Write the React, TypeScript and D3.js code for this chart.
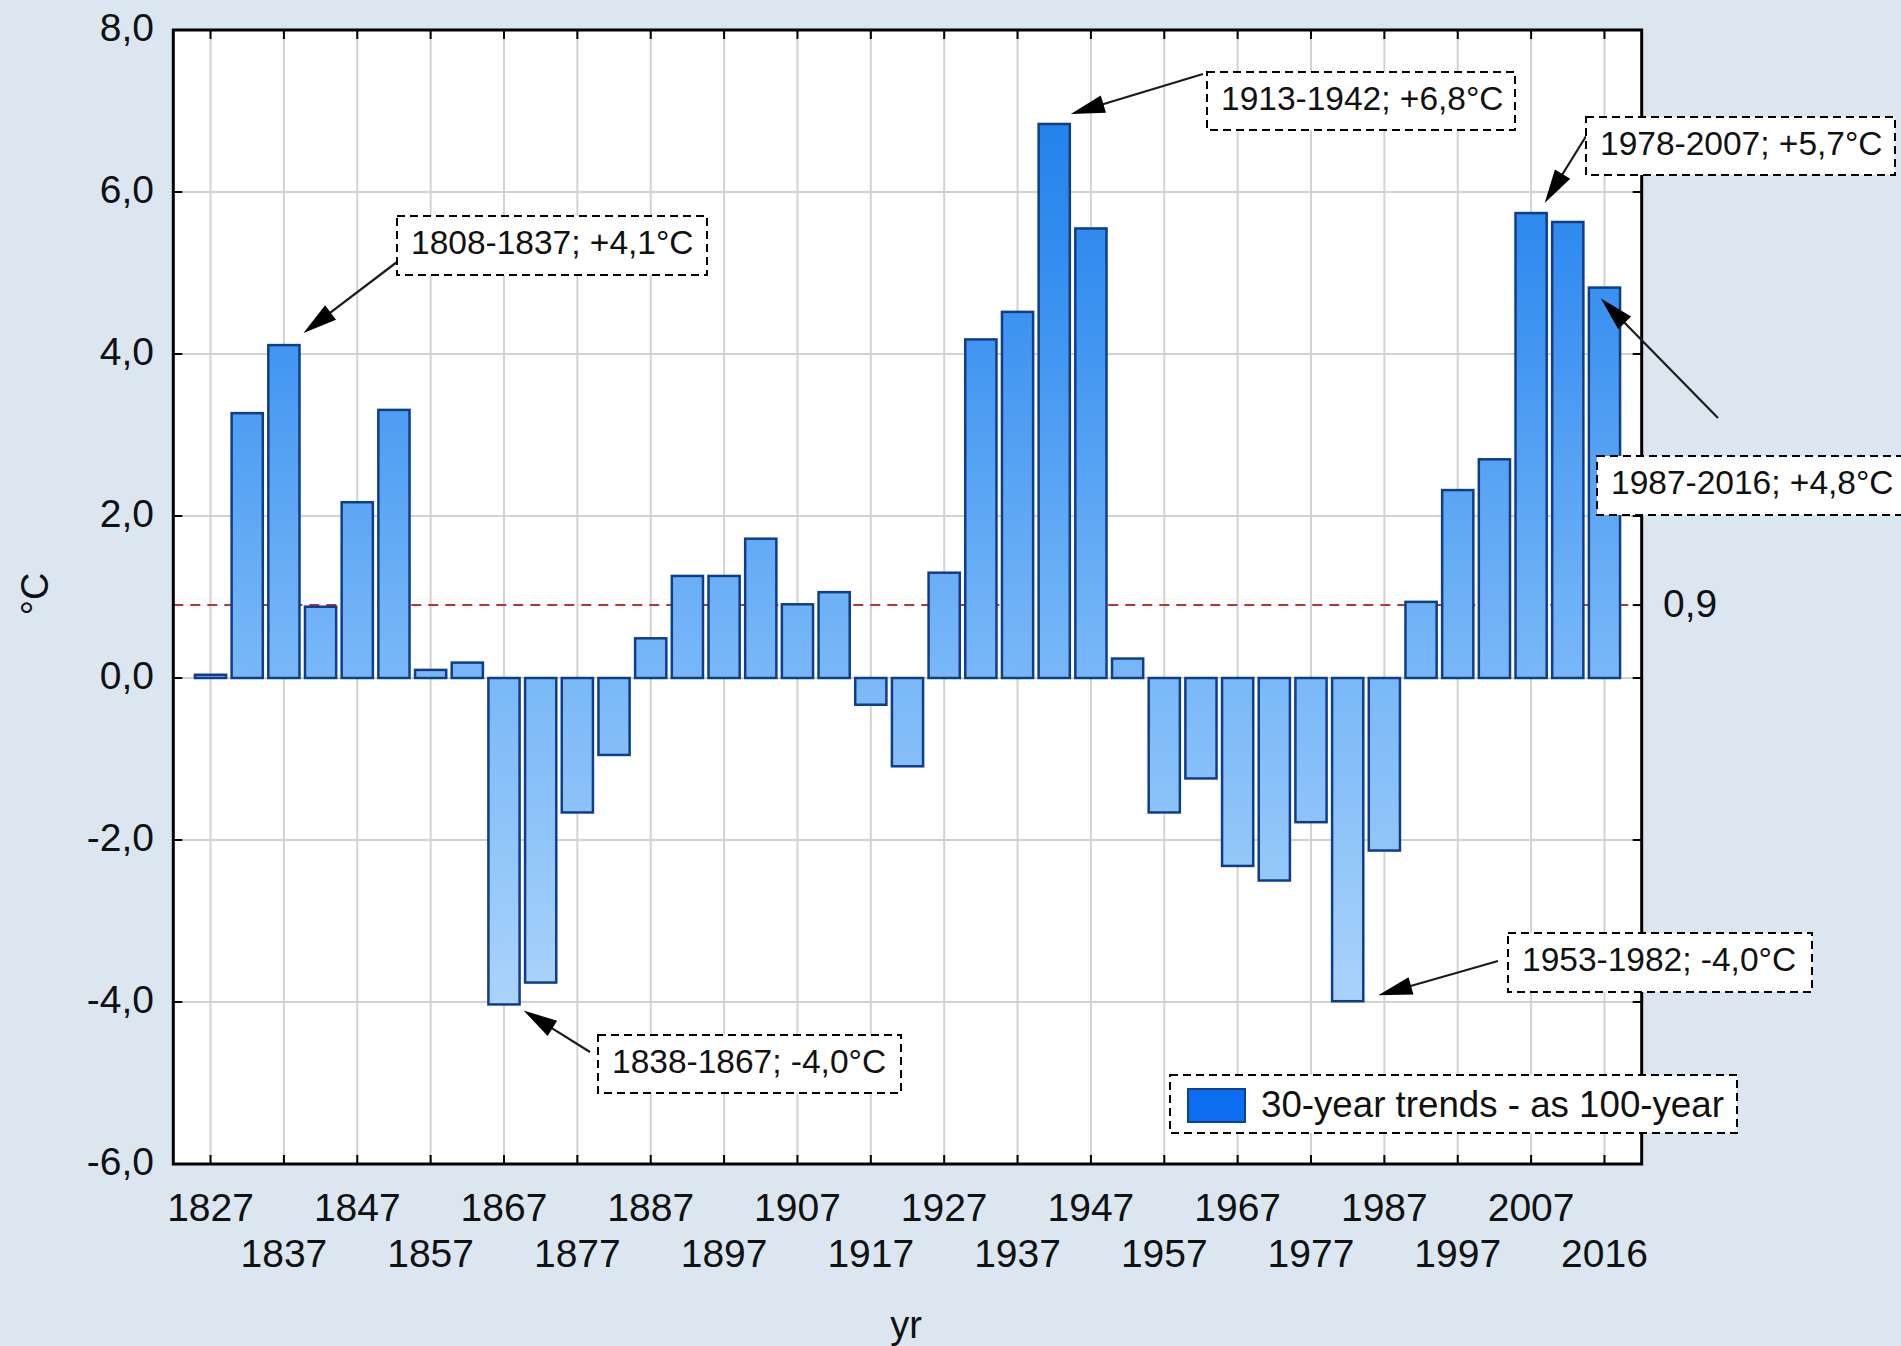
import React from "react";
import * as d3 from "d3";

// ---------- data ----------
const years = [
  "1827", "1832", "1837", "1842", "1847", "1852", "1857", "1862", "1867", "1872",
  "1877", "1882", "1887", "1892", "1897", "1902", "1907", "1912", "1917", "1922",
  "1927", "1932", "1937", "1942", "1947", "1952", "1957", "1962", "1967", "1972",
  "1977", "1982", "1987", "1992", "1997", "2002", "2007", "2012", "2016",
];
const trends = [
  0.04, 3.27, 4.11, 0.88, 2.17, 3.31, 0.1, 0.19, -4.03, -3.76,
  -1.66, -0.95, 0.49, 1.26, 1.26, 1.72, 0.91, 1.06, -0.33, -1.09,
  1.3, 4.18, 4.52, 6.84, 5.55, 0.24, -1.66, -1.24, -2.32, -2.5,
  -1.78, -3.99, -2.13, 0.94, 2.32, 2.7, 5.74, 5.63, 4.82,
];
const yTicks = [8, 6, 4, 2, 0, -2, -4, -6];
const refValue = 0.9;
const legendLabel = "30-year trends - as 100-year";
const yTitle = "°C";
const xTitle = "yr";
const annotationLabels = [
  "1808-1837; +4,1°C",
  "1913-1942; +6,8°C",
  "1978-2007; +5,7°C",
  "1987-2016; +4,8°C",
  "1953-1982; -4,0°C",
  "1838-1867; -4,0°C",
];
const annotationYears = ["1837", "1942", "2007", "2016", "1982", "1867"];

// ---------- layout ----------
const W = 1901;
const H = 1346;
const PL = 173.3;
const PR = 1641.7;
const PT = 30;
const PB = 1164;

const annLayout = [
  { x: 397, y: 216, w: 310, h: 59, sx: 397, sy: 262, side: 1, dx: 4, dy: -12 },
  { x: 1207, y: 72, w: 308, h: 58, sx: 1203, sy: 74, side: 1, dx: 1, dy: -10 },
  { x: 1586, y: 117, w: 309, h: 58, sx: 1588, sy: 133, side: 1, dx: -2, dy: -10 },
  { x: 1597, y: 456, w: 312, h: 59, sx: 1718, sy: 418, side: -1, dx: 12, dy: 11 },
  { x: 1508, y: 933, w: 304, h: 59, sx: 1498, sy: 961, side: 1, dx: 15, dy: -6 },
  { x: 598, y: 1035, w: 303, h: 58, sx: 590, sy: 1052, side: 1, dx: 4, dy: 6 },
];

const locale = d3.formatLocale({
  decimal: ",",
  thousands: " ",
  grouping: [3],
  currency: ["", ""],
  minus: "-",
});
const fmt = locale.format(".1f");

const FONT = "'Liberation Sans', Arial, Helvetica, sans-serif";

function arrowHead(sx: number, sy: number, tx: number, ty: number) {
  const len = 34;
  const hw = 9;
  const ang = Math.atan2(ty - sy, tx - sx);
  const bx = tx - len * Math.cos(ang);
  const by = ty - len * Math.sin(ang);
  const px = -Math.sin(ang) * hw;
  const py = Math.cos(ang) * hw;
  return {
    poly: `${tx},${ty} ${bx + px},${by + py} ${bx - px},${by - py}`,
    bx: tx - (len - 4) * Math.cos(ang),
    by: ty - (len - 4) * Math.sin(ang),
  };
}

export default function App() {
  const x = d3
    .scaleBand<string>()
    .domain(years)
    .range([PL, PR])
    .paddingInner(0.15)
    .paddingOuter(0.59);
  const y = d3.scaleLinear().domain([-6, 8]).range([PB, PT]);
  const bw = x.bandwidth();
  const cx = (yr: string) => (x(yr) as number) + bw / 2;

  const gradStops = [
    { v: 8, c: "#1677e7" },
    { v: 6.85, c: "#2383ec" },
    { v: 4.8, c: "#3890f0" },
    { v: 0.9, c: "#6eb1f6" },
    { v: 0, c: "#79b8f7" },
    { v: -2, c: "#90c5f9" },
    { v: -4, c: "#aad3fa" },
    { v: -6, c: "#c2e0fc" },
  ];

  return (
    <svg
      width={W}
      height={H}
      style={{ position: "absolute", left: 0, top: 0, display: "block" }}
      fontFamily={FONT}
    >
      <defs>
        <linearGradient
          id="barGrad"
          gradientUnits="userSpaceOnUse"
          x1={0}
          y1={y(8)}
          x2={0}
          y2={y(-6)}
        >
          {gradStops.map((s, i) => (
            <stop key={i} offset={(y(s.v) - PT) / (PB - PT)} stopColor={s.c} />
          ))}
        </linearGradient>
      </defs>
      <rect x={0} y={0} width={W} height={H} fill="#dce6f1" />
      <rect x={PL} y={PT} width={PR - PL} height={PB - PT} fill="#ffffff" />

      {/* grid */}
      {yTicks.map((t) => (
        <line
          key={"hg" + t}
          x1={PL}
          x2={PR}
          y1={y(t)}
          y2={y(t)}
          stroke="#d2d2d2"
          strokeWidth={2}
        />
      ))}
      {years.map((yr, i) =>
        i % 2 === 0 ? (
          <line
            key={"vg" + yr}
            x1={cx(yr)}
            x2={cx(yr)}
            y1={PT}
            y2={PB}
            stroke="#d2d2d2"
            strokeWidth={2}
          />
        ) : null
      )}

      {/* reference line */}
      <line
        x1={PL}
        x2={PR}
        y1={y(refValue)}
        y2={y(refValue)}
        stroke="#b83535"
        strokeWidth={2}
        strokeDasharray="10 7"
      />

      {/* bars */}
      {years.map((yr, i) => {
        const v = trends[i];
        const y0 = y(Math.max(0, v));
        const y1 = y(Math.min(0, v));
        return (
          <rect
            key={"b" + yr}
            x={x(yr)}
            y={y0}
            width={bw}
            height={Math.max(1, y1 - y0)}
            fill="url(#barGrad)"
            stroke="#0f3d8c"
            strokeWidth={2.5}
          />
        );
      })}

      {/* frame */}
      <rect
        x={PL}
        y={PT}
        width={PR - PL}
        height={PB - PT}
        fill="none"
        stroke="#000"
        strokeWidth={3}
      />

      {/* x ticks */}
      {years.map((yr, i) =>
        i % 2 === 0 ? (
          <g key={"xt" + yr}>
            <line x1={cx(yr)} x2={cx(yr)} y1={PB} y2={PB - 9} stroke="#000" strokeWidth={2} />
            <line x1={cx(yr)} x2={cx(yr)} y1={PT} y2={PT + 9} stroke="#000" strokeWidth={2} />
            <text
              x={cx(yr)}
              y={(i / 2) % 2 === 0 ? 1221 : 1267}
              textAnchor="middle"
              fontSize={39}
              fill="#111"
            >
              {yr}
            </text>
          </g>
        ) : null
      )}

      {/* y ticks */}
      {yTicks.map((t) => (
        <g key={"yt" + t}>
          <line x1={PL} x2={PL + 9} y1={y(t)} y2={y(t)} stroke="#000" strokeWidth={2} />
          <line x1={PR} x2={PR - 9} y1={y(t)} y2={y(t)} stroke="#000" strokeWidth={2} />
          <text
            x={154}
            y={y(t) - 3}
            textAnchor="end"
            dominantBaseline="central"
            fontSize={39}
            fill="#111"
          >
            {fmt(t)}
          </text>
        </g>
      ))}
      <line
        x1={PR}
        x2={PR - 9}
        y1={y(refValue)}
        y2={y(refValue)}
        stroke="#000"
        strokeWidth={2}
      />
      <text
        x={1663}
        y={y(refValue) - 2}
        dominantBaseline="central"
        fontSize={39}
        fill="#111"
      >
        {fmt(refValue)}
      </text>

      {/* axis titles */}
      <text
        transform="translate(48,594) rotate(-90)"
        textAnchor="middle"
        fontSize={38}
        fill="#111"
      >
        {yTitle}
      </text>
      <text x={906} y={1338} textAnchor="middle" fontSize={38} fill="#111">
        {xTitle}
      </text>

      {/* annotations */}
      {annotationLabels.map((lab, i) => {
        const L = annLayout[i];
        const yr = annotationYears[i];
        const idx = years.indexOf(yr);
        const v = trends[idx];
        const edgeX = (x(yr) as number) + (L.side > 0 ? bw : 0);
        const tx = edgeX + L.dx;
        const ty = y(v) + L.dy;
        const ah = arrowHead(L.sx, L.sy, tx, ty);
        return (
          <g key={"ann" + i}>
            <line x1={L.sx} y1={L.sy} x2={ah.bx} y2={ah.by} stroke="#1a1a1a" strokeWidth={2.2} />
            <polygon points={ah.poly} fill="#000" />
            <rect
              x={L.x}
              y={L.y}
              width={L.w}
              height={L.h}
              fill="#fff"
              stroke="#000"
              strokeWidth={2}
              strokeDasharray="8 5"
            />
            <text x={L.x + 14} y={L.y + 38} fontSize={33.5} fill="#111">
              {lab}
            </text>
          </g>
        );
      })}

      {/* legend */}
      <g>
        <rect
          x={1170}
          y={1075}
          width={567}
          height={58}
          fill="#fff"
          stroke="#000"
          strokeWidth={2}
          strokeDasharray="8 5"
        />
        <rect x={1188} y={1089} width={57} height={33} fill="#0b6ef0" stroke="#10408f" strokeWidth={2} />
        <text x={1261} y={1117} fontSize={36.7} fill="#111">
          {legendLabel}
        </text>
      </g>
    </svg>
  );
}
